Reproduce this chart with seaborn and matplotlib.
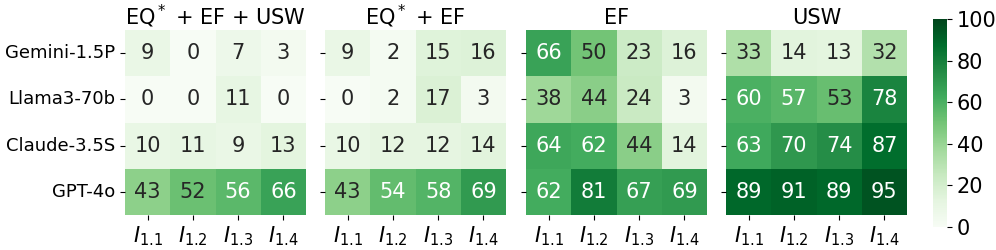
import numpy as np
import pandas as pd
import matplotlib
matplotlib.use("Agg")
import matplotlib.pyplot as plt
import seaborn as sns

# Data
models = ["Gemini-1.5P", "Llama3-70b", "Claude-3.5S", "GPT-4o"]
instances = [r"$I_{1.1}$", r"$I_{1.2}$", r"$I_{1.3}$", r"$I_{1.4}$"]
titles = [r"EQ$^*$ + EF + USW", r"EQ$^*$ + EF", "EF", "USW"]
cbar_ticks = [0, 20, 40, 60, 80, 100]

eq_ef_usw = [[9, 0, 7, 3],
             [0, 0, 11, 0],
             [10, 11, 9, 13],
             [43, 52, 56, 66]]
eq_ef = [[9, 2, 15, 16],
         [0, 2, 17, 3],
         [10, 12, 12, 14],
         [43, 54, 58, 69]]
ef = [[66, 50, 23, 16],
      [38, 44, 24, 3],
      [64, 62, 44, 14],
      [62, 81, 67, 69]]
usw = [[33, 14, 13, 32],
       [60, 57, 53, 78],
       [63, 70, 74, 87],
       [89, 91, 89, 95]]

tables = [eq_ef_usw, eq_ef, ef, usw]

fig = plt.figure(figsize=(9.96, 2.5), dpi=100)
W, H = 996, 250
lefts = [125, 325, 526, 726]
pw, top, bot = 181, 30, 215
cbar_ax = fig.add_axes([933 / W, 1 - 227 / H, 14 / W, 208 / H])

for i, (tab, title) in enumerate(zip(tables, titles)):
    ax = fig.add_axes([lefts[i] / W, 1 - bot / H, pw / W, (bot - top) / H])
    df = pd.DataFrame(tab, index=models, columns=instances)
    sns.heatmap(df, ax=ax, cmap="Greens", vmin=0, vmax=100, annot=True, fmt="d",
                annot_kws={"fontsize": 15}, cbar=(i == 0), cbar_ax=cbar_ax if i == 0 else None,
                cbar_kws={"ticks": cbar_ticks} if i == 0 else None)
    ax.set_title(title, fontsize=15, pad=4)
    ax.tick_params(axis="x", labelsize=15, rotation=0)
    ax.tick_params(axis="y", labelsize=13, rotation=0)
    if i > 0:
        ax.set_yticklabels([])

cbar_ax.tick_params(labelsize=15)

fig.savefig("out.png", dpi=100)
